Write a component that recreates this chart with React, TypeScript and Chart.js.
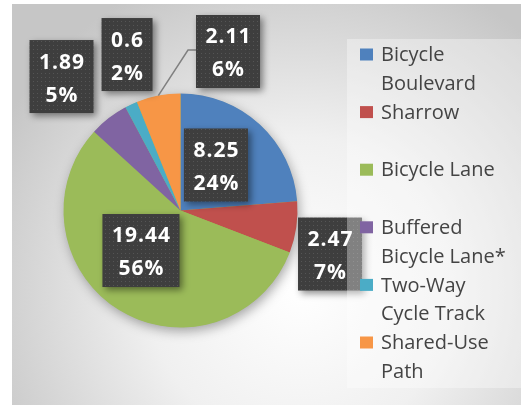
import React, { useEffect, useRef } from "react";
import { Chart, registerables } from "chart.js";

Chart.register(...registerables);

const categories: string[][] = [
  ["Bicycle", "Boulevard"],
  ["Sharrow"],
  ["Bicycle Lane"],
  ["Buffered", "Bicycle Lane*"],
  ["Two-Way", "Cycle Track"],
  ["Shared-Use", "Path"],
];
const values: number[] = [8.25, 2.47, 19.44, 1.89, 0.6, 2.11];
const percentLabels: string[] = ["24%", "7%", "56%", "5%", "2%", "6%"];
const colors: string[] = ["#4F81BD", "#C0504D", "#9BBB59", "#8064A2", "#4BACC6", "#F79646"];

// label box centre offsets from pie centre, in units of the pie radius
const labelOffsets: number[][] = [
  [0.303, -0.389],
  [1.278, 0.372],
  [-0.338, 0.342],
  [-1.017, -1.145],
  [-0.457, -1.333],
  [0.406, -1.359],
];
const leaderLines: boolean[] = [false, false, false, false, false, true];

const W = 521;
const H = 418;

function makePattern(ctx: CanvasRenderingContext2D) {
  const c = document.createElement("canvas");
  c.width = 4;
  c.height = 4;
  const p = c.getContext("2d")!;
  p.fillStyle = "#3e3e3e";
  p.fillRect(0, 0, 4, 4);
  p.fillStyle = "#555555";
  p.fillRect(1, 1, 1, 1);
  return ctx.createPattern(c, "repeat")!;
}

const backgroundPlugin = {
  id: "bgPlugin",
  beforeDraw(chart: any) {
    const ctx: CanvasRenderingContext2D = chart.ctx;
    ctx.save();
    ctx.fillStyle = "#ffffff";
    ctx.fillRect(0, 0, W, H);
    const g = ctx.createRadialGradient(300, 290, 0, 300, 290, 340);
    g.addColorStop(0, "#ffffff");
    g.addColorStop(0.45, "#f0f0f0");
    g.addColorStop(1, "#c6c6c6");
    ctx.fillStyle = g;
    ctx.fillRect(12, 4, W - 12, 401);
    ctx.restore();
  },
  beforeDatasetsDraw(chart: any) {
    const arc = chart.getDatasetMeta(0).data[0];
    if (!arc) return;
    const ctx: CanvasRenderingContext2D = chart.ctx;
    ctx.save();
    ctx.shadowColor = "rgba(0,0,0,0.35)";
    ctx.shadowBlur = 12;
    ctx.shadowOffsetX = 2;
    ctx.shadowOffsetY = 4;
    ctx.fillStyle = "#9BBB59";
    ctx.beginPath();
    ctx.arc(arc.x, arc.y, arc.outerRadius - 0.5, 0, Math.PI * 2);
    ctx.fill();
    ctx.restore();
  },
  afterDatasetsDraw(chart: any) {
    const ctx: CanvasRenderingContext2D = chart.ctx;
    const meta = chart.getDatasetMeta(0);
    const pattern = makePattern(ctx);
    const font = "bold 21px 'Open Sans'";
    meta.data.forEach((arc: any, i: number) => {
      const r = arc.outerRadius;
      const cx = arc.x + labelOffsets[i][0] * r;
      const cy = arc.y + labelOffsets[i][1] * r;
      const l1 = String(values[i]);
      const l2 = percentLabels[i];
      ctx.save();
      ctx.font = font;
      (ctx as any).letterSpacing = "1px";
      const tw = Math.max(ctx.measureText(l1).width, ctx.measureText(l2).width);
      const bw = tw + 18;
      const bh = 73;
      const bx = cx - bw / 2;
      const by = cy - bh / 2;
      if (leaderLines[i]) {
        const mid = (arc.startAngle + arc.endAngle) / 2;
        const ex = arc.x + Math.cos(mid) * r;
        const ey = arc.y + Math.sin(mid) * r;
        ctx.strokeStyle = "#808080";
        ctx.lineWidth = 1.5;
        ctx.beginPath();
        ctx.moveTo(ex, ey);
        ctx.lineTo(bx - 8, cy - 1.5);
        ctx.lineTo(bx, cy - 1.5);
        ctx.stroke();
      }
      ctx.shadowColor = "rgba(0,0,0,0.45)";
      ctx.shadowBlur = 7;
      ctx.shadowOffsetX = 3;
      ctx.shadowOffsetY = 3;
      ctx.fillStyle = pattern;
      ctx.fillRect(bx, by, bw, bh);
      ctx.shadowColor = "transparent";
      ctx.fillStyle = "#ffffff";
      ctx.textAlign = "center";
      ctx.textBaseline = "middle";
      ctx.fillText(l1, cx + 0.5, cy - 14);
      ctx.fillText(l2, cx + 0.5, cy + 19);
      ctx.restore();
    });
  },
  afterDraw(chart: any) {
    const ctx: CanvasRenderingContext2D = chart.ctx;
    ctx.save();
    ctx.fillStyle = "rgba(255,255,255,0.35)";
    ctx.fillRect(347, 39, W - 347, 349);
    ctx.font = "20px 'Open Sans'";
    ctx.textBaseline = "middle";
    ctx.textAlign = "left";
    const lineH = 28.8;
    let y = 54.5;
    categories.forEach((lines, i) => {
      ctx.fillStyle = colors[i];
      ctx.fillRect(360, y - 6, 13, 12);
      ctx.fillStyle = "#444444";
      lines.forEach((t, j) => {
        ctx.fillText(t, 381, y + j * lineH + 1);
      });
      y += lineH * 2;
    });
    ctx.restore();
  },
};

export default function App() {
  const ref = useRef<HTMLCanvasElement | null>(null);
  useEffect(() => {
    document.body.style.margin = "0";
    const canvas = ref.current!;
    const chart = new Chart(canvas, {
      type: "pie",
      data: {
        labels: categories.map((c) => c.join(" ")),
        datasets: [
          {
            data: values,
            backgroundColor: colors,
            borderWidth: 0,
            hoverOffset: 0,
          },
        ],
      },
      options: {
        animation: false,
        responsive: false,
        devicePixelRatio: 1,
        layout: { padding: { left: 63.5, right: 223.5, top: 93.5, bottom: 90.5 } },
        plugins: {
          legend: { display: false },
          tooltip: { enabled: false },
        },
      },
      plugins: [backgroundPlugin],
    });
    return () => chart.destroy();
  }, []);
  return (
    <div style={{ position: "absolute", left: 0, top: 0, width: W, height: H }}>
      <canvas ref={ref} width={W} height={H} style={{ width: W, height: H }} />
    </div>
  );
}
